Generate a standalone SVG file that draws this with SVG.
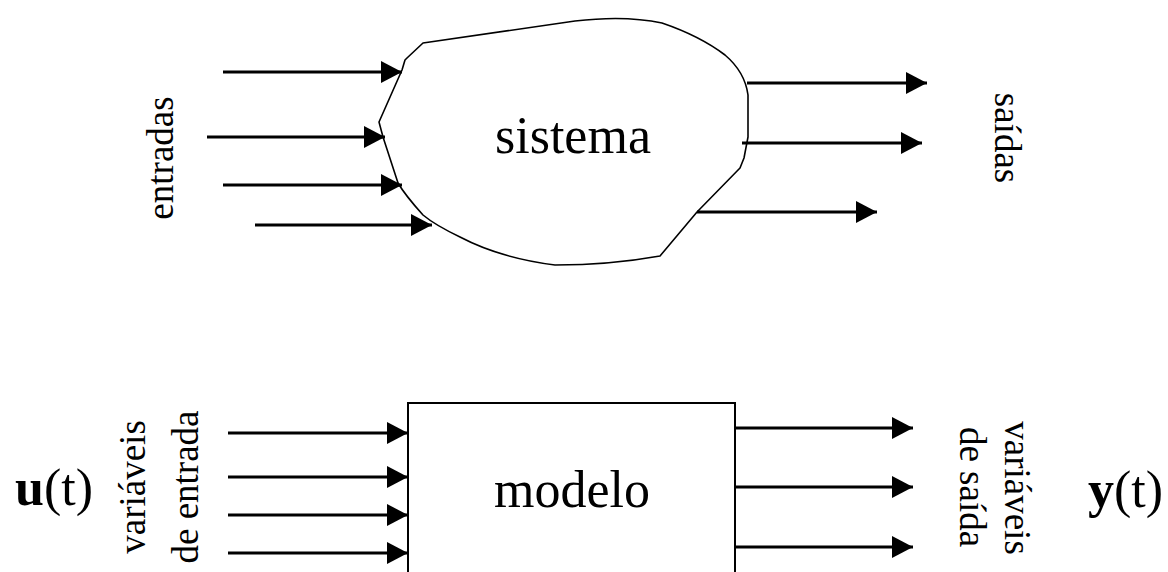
<svg xmlns="http://www.w3.org/2000/svg" width="1168" height="572" viewBox="0 0 1168 572">
<style>
text { font-family: "Liberation Serif", "Times New Roman", serif; fill: #000; }
.lbl { font-family: "Liberation Serif", "Times New Roman", serif; font-size: 37px; text-anchor: middle; }
.big { font-family: "Liberation Serif", "Times New Roman", serif; font-size: 52px; text-anchor: middle; }
.var { font-family: "Liberation Serif", "Times New Roman", serif; font-size: 52px; }
.arr { stroke: #000; stroke-width: 3; fill: none; marker-end: url(#ah); }
</style>
<defs>
<marker id="ah" markerUnits="userSpaceOnUse" markerWidth="22" markerHeight="22" refX="21" refY="11" orient="auto" viewBox="0 0 22 22">
<path d="M0,0 L21,11 L0,22 Z" fill="#000"/>
</marker>
</defs>
<rect width="1168" height="572" fill="#fff"/>
<g id="sistema">
<path d="M402,70 L405,60 L407,58 L423,43 L575,21 Q625,15 662,23 Q700,36 725,55 Q745,72 748,95 L748,137 L744,158 L740,168 L697,212 L660,256 Q610,265 555,265 Q500,258 460,237 Q435,225 423,215 Q405,195 398,183 L383,137 L379,122 Z" fill="#fff" stroke="#000" stroke-width="1.6" stroke-linejoin="round"/>
<text class="big" x="573" y="153">sistema</text>
</g>
<g id="modelo">
<rect x="408" y="403" width="327" height="200" fill="#fff" stroke="#000" stroke-width="2"/>
<text class="big" x="572" y="507">modelo</text>
</g>
<g id="labels">
<text class="lbl" transform="translate(173,158) rotate(-90)">entradas</text>
<text class="lbl" transform="translate(995,138) rotate(90)">saídas</text>
<text class="lbl" transform="translate(145,487) rotate(-90)">variáveis</text>
<text class="lbl" transform="translate(198,487) rotate(-90)">de entrada</text>
<text class="lbl" transform="translate(1005,488) rotate(90)">variáveis</text>
<text class="lbl" transform="translate(960,487) rotate(90)">de saída</text>
<text class="var" x="15" y="505"><tspan font-weight="bold">u</tspan>(t)</text>
<text class="var" x="1088" y="507"><tspan font-weight="bold">y</tspan>(t)</text>
</g>
<g id="connectors">
<line class="arr" x1="223" y1="72" x2="402" y2="72"/>
<line class="arr" x1="207" y1="137" x2="385" y2="137"/>
<line class="arr" x1="223" y1="185" x2="402" y2="185"/>
<line class="arr" x1="255" y1="225" x2="432" y2="225"/>
<line class="arr" x1="747" y1="83" x2="927" y2="83"/>
<line class="arr" x1="742" y1="143" x2="922" y2="143"/>
<line class="arr" x1="697" y1="212" x2="877" y2="212"/>
<line class="arr" x1="228" y1="433" x2="408" y2="433"/>
<line class="arr" x1="228" y1="477" x2="408" y2="477"/>
<line class="arr" x1="228" y1="515" x2="408" y2="515"/>
<line class="arr" x1="228" y1="553" x2="408" y2="553"/>
<line class="arr" x1="735" y1="428" x2="913" y2="428"/>
<line class="arr" x1="735" y1="487" x2="913" y2="487"/>
<line class="arr" x1="735" y1="547" x2="913" y2="547"/>
</g>
</svg>
